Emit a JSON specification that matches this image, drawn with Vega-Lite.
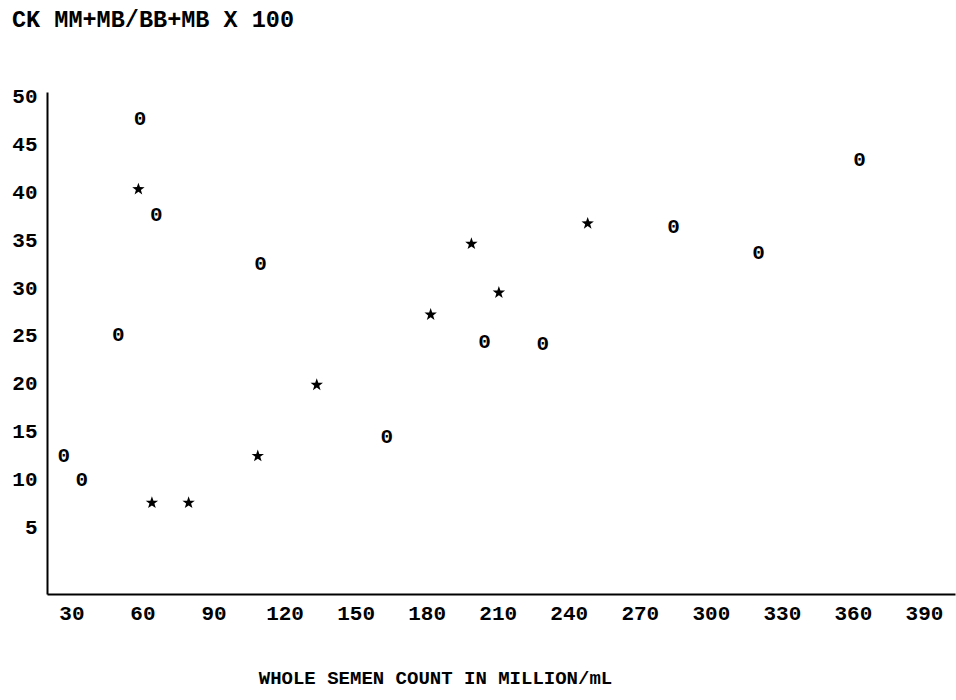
{
  "$schema": "https://vega.github.io/schema/vega-lite/v6.json",
  "width": 908,
  "height": 502,
  "autosize": "none",
  "padding": {"left": 47, "top": 92, "right": 1, "bottom": 106},
  "background": "white",
  "title": {
    "text": "CK MM+MB/BB+MB X 100",
    "anchor": "start",
    "frame": "group",
    "dx": -35,
    "offset": 54,
    "font": "Liberation Mono",
    "fontSize": 23.5,
    "fontWeight": "bold",
    "color": "black"
  },
  "config": {
    "view": {"stroke": null},
    "axis": {
      "grid": false,
      "ticks": false,
      "domainColor": "black",
      "domainWidth": 2,
      "labelFont": "Liberation Mono",
      "labelFontSize": 21,
      "labelFontWeight": "bold",
      "labelColor": "black",
      "titleFont": "Liberation Mono",
      "titleFontWeight": "bold",
      "titleColor": "black"
    }
  },
  "data": {
    "values": [
      {"count": 59.0, "ratio": 47.66, "group": "O"},
      {"count": 65.8, "ratio": 37.65, "group": "O"},
      {"count": 109.9, "ratio": 32.52, "group": "O"},
      {"count": 49.8, "ratio": 25.09, "group": "O"},
      {"count": 26.8, "ratio": 12.46, "group": "O"},
      {"count": 34.4, "ratio": 9.92, "group": "O"},
      {"count": 163.2, "ratio": 14.45, "group": "O"},
      {"count": 204.4, "ratio": 24.33, "group": "O"},
      {"count": 229.1, "ratio": 24.15, "group": "O"},
      {"count": 284.3, "ratio": 36.36, "group": "O"},
      {"count": 320.1, "ratio": 33.64, "group": "O"},
      {"count": 362.8, "ratio": 43.41, "group": "O"},
      {"count": 58.3, "ratio": 40.34, "group": "star"},
      {"count": 64.0, "ratio": 7.54, "group": "star"},
      {"count": 79.5, "ratio": 7.54, "group": "star"},
      {"count": 108.7, "ratio": 12.43, "group": "star"},
      {"count": 133.6, "ratio": 19.87, "group": "star"},
      {"count": 181.7, "ratio": 27.22, "group": "star"},
      {"count": 198.9, "ratio": 34.62, "group": "star"},
      {"count": 210.5, "ratio": 29.52, "group": "star"},
      {"count": 248.0, "ratio": 36.75, "group": "star"}
    ]
  },
  "encoding": {
    "x": {
      "field": "count",
      "type": "quantitative",
      "scale": {"domain": [19.7, 403.1], "nice": false, "zero": false},
      "axis": {
        "values": [30, 60, 90, 120, 150, 180, 210, 240, 270, 300, 330, 360, 390],
        "labelPadding": 8,
        "title": "WHOLE SEMEN COUNT IN MILLION/mL",
        "titleFontSize": 19,
        "titleX": 388,
        "titleY": 83,
        "titleAlign": "center",
        "titleBaseline": "middle"
      }
    },
    "y": {
      "field": "ratio",
      "type": "quantitative",
      "scale": {"domain": [-2.0, 50.5], "nice": false, "zero": false},
      "axis": {
        "values": [5, 10, 15, 20, 25, 30, 35, 40, 45, 50],
        "labelPadding": 10,
        "title": null
      }
    }
  },
  "layer": [
    {
      "transform": [{"filter": "datum.group === 'O'"}],
      "mark": {
        "type": "text",
        "text": "0",
        "font": "Liberation Mono",
        "fontSize": 21,
        "fontWeight": "bold",
        "color": "black",
        "baseline": "middle",
        "align": "center"
      }
    },
    {
      "transform": [{"filter": "datum.group === 'star'"}],
      "mark": {
        "type": "point",
        "shape": "M0,-1L0.235,-0.324L0.951,-0.309L0.38,0.124L0.588,0.809L0,0.4L-0.588,0.809L-0.38,0.124L-0.951,-0.309L-0.235,-0.324Z",
        "filled": true,
        "color": "black",
        "opacity": 1,
        "size": 170
      }
    }
  ]
}
